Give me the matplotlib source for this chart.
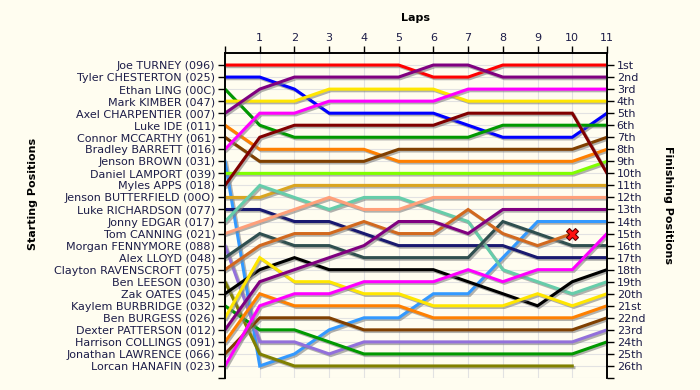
import matplotlib
matplotlib.use("Agg")
import matplotlib.pyplot as plt
import matplotlib.patheffects as pe

# starting grid order (lap 0)
drivers = ["Joe TURNEY (096)", "Tyler CHESTERTON (025)", "Ethan LING (00C)",
           "Mark KIMBER (047)", "Axel CHARPENTIER (007)", "Luke IDE (011)",
           "Connor MCCARTHY (061)", "Bradley BARRETT (016)", "Jenson BROWN (031)",
           "Daniel LAMPORT (039)", "Myles APPS (018)", "Jenson BUTTERFIELD (00O)",
           "Luke RICHARDSON (077)", "Jonny EDGAR (017)", "Tom CANNING (021)",
           "Morgan FENNYMORE (088)", "Alex LLOYD (048)", "Clayton RAVENSCROFT (075)",
           "Ben LEESON (030)", "Zak OATES (045)", "Kaylem BURBRIDGE (032)",
           "Ben BURGESS (026)", "Dexter PATTERSON (012)", "Harrison COLLINGS (091)",
           "Jonathan LAWRENCE (066)", "Lorcan HANAFIN (023)"]

# position at end of each lap, lap 0 = grid
positions = [
    [1, 1, 1, 1, 1, 1, 2, 2, 1, 1, 1, 1],
    [2, 2, 3, 5, 5, 5, 5, 6, 7, 7, 7, 5],
    [3, 6, 7, 7, 7, 7, 7, 7, 6, 6, 6, 6],
    [4, 4, 4, 3, 3, 3, 3, 4, 4, 4, 4, 4],
    [5, 3, 2, 2, 2, 2, 1, 1, 2, 2, 2, 2],
    [6, 8, 8, 8, 8, 9, 9, 9, 9, 9, 9, 8],
    [7, 9, 9, 9, 9, 8, 8, 8, 8, 8, 8, 7],
    [8, 5, 5, 4, 4, 4, 4, 3, 3, 3, 3, 3],
    [9, 26, 25, 23, 22, 22, 20, 20, 17, 14, 14, 14],
    [10, 10, 10, 10, 10, 10, 10, 10, 10, 10, 10, 9],
    [11, 7, 6, 6, 6, 6, 6, 5, 5, 5, 5, 10],
    [12, 12, 11, 11, 11, 11, 11, 11, 11, 11, 11, 11],
    [13, 13, 14, 14, 15, 16, 16, 16, 16, 17, 17, 17],
    [14, 11, 12, 13, 12, 12, 13, 14, 18, 19, 20, 19],
    [15, 14, 13, 12, 13, 13, 12, 12, 12, 12, 12, 12],
    [16, 24, 24, 25, 24, 24, 24, 24, 24, 24, 24, 23],
    [17, 15, 16, 16, 17, 17, 17, 17, 14, 15, 16, 16],
    [18, 16, 15, 15, 14, 15, 15, 13, 15, 16, 15],
    [19, 25, 26, 26, 26, 26, 26, 26, 26, 26, 26],
    [20, 18, 17, 18, 18, 18, 18, 19, 20, 21, 19, 18],
    [21, 23, 23, 24, 25, 25, 25, 25, 25, 25, 25, 24],
    [22, 17, 19, 19, 20, 20, 21, 21, 21, 20, 21, 20],
    [23, 19, 18, 17, 16, 14, 14, 15, 13, 13, 13, 13],
    [24, 20, 21, 21, 21, 21, 22, 22, 22, 22, 22, 21],
    [25, 22, 22, 22, 23, 23, 23, 23, 23, 23, 23, 22],
    [26, 21, 20, 20, 19, 19, 19, 18, 19, 18, 18, 15],
]

retired = ["Clayton RAVENSCROFT (075)"]

colors = ["#ff0000", "#0000ff", "#009900", "#ffe600", "#800080", "#ff8000",
          "#804000", "#ff00ff", "#3399ff", "#80ff00", "#800000", "#daa520",
          "#191970", "#66cdaa", "#ffa07a", "#9370db", "#2f4f4f", "#d2691e",
          "#808000", "#000000", "#009900", "#ffe600", "#800080", "#ff8000",
          "#804000", "#ff00ff"]

n_laps = 11
finish = ["%d%s" % (i, {1: "st", 2: "nd", 3: "rd"}.get(i if i < 20 else i % 10, "th"))
          for i in range(1, 27)]

bg = "#fffdf0"
txt = "#1c1c48"

fig = plt.figure(figsize=(7, 3.9), dpi=100, facecolor=bg)
ax = fig.add_axes([225/700, 12/390, 382/700, 325/390], facecolor=bg)

shadow = [pe.SimpleLineShadow(offset=(1.2, -1.2), shadow_color="gray", alpha=0.6), pe.Normal()]
for name, pos, c in zip(drivers, positions, colors):
    ax.plot(range(len(pos)), pos, color=c, lw=2.2, solid_joinstyle="miter",
            path_effects=shadow, zorder=3)
    if name in retired:
        ax.plot(len(pos) - 1, pos[-1], marker="X", ms=9, color="#ff1010",
                mec="#600000", mew=0.8, zorder=5)

ax.set_xlim(0, n_laps)
ax.set_ylim(27, 0)
ax.grid(True, color="#e2e2e2", lw=0.8, zorder=0)

ax.xaxis.tick_top()
ax.set_xticks(range(0, n_laps + 1))
ax.set_xticklabels([""] + [str(i) for i in range(1, n_laps + 1)])
ax.set_yticks(range(1, 28))
ax.set_yticklabels(drivers + [""])
ax.tick_params(axis="x", top=True, bottom=False, length=5, width=1, pad=2,
               labelsize=8, labelcolor=txt)
ax.tick_params(axis="y", left=True, right=True, length=5, width=1, pad=2,
               labelsize=8, labelcolor=txt)

ax2 = ax.twinx()
ax2.set_ylim(27, 0)
ax2.set_yticks(range(1, 28))
ax2.set_yticklabels(finish + [""])
ax2.tick_params(axis="y", length=5, width=1, pad=2, labelsize=8, labelcolor=txt)

for a in (ax, ax2):
    a.spines["bottom"].set_visible(False)
    for s in ("top", "left", "right"):
        a.spines[s].set_linewidth(1.2)

fig.text(416/700, 1 - 18/390, "Laps", ha="center", va="center",
         fontsize=8, fontweight="bold")
fig.text(33/700, 1 - 194/390, "Starting Positions", ha="center", va="center",
         rotation=90, fontsize=8, fontweight="bold")
fig.text(668/700, 1 - 205/390, "Finishing Positions", ha="center", va="center",
         rotation=270, fontsize=8, fontweight="bold")

fig.savefig("out.png", dpi=100, facecolor=bg)
